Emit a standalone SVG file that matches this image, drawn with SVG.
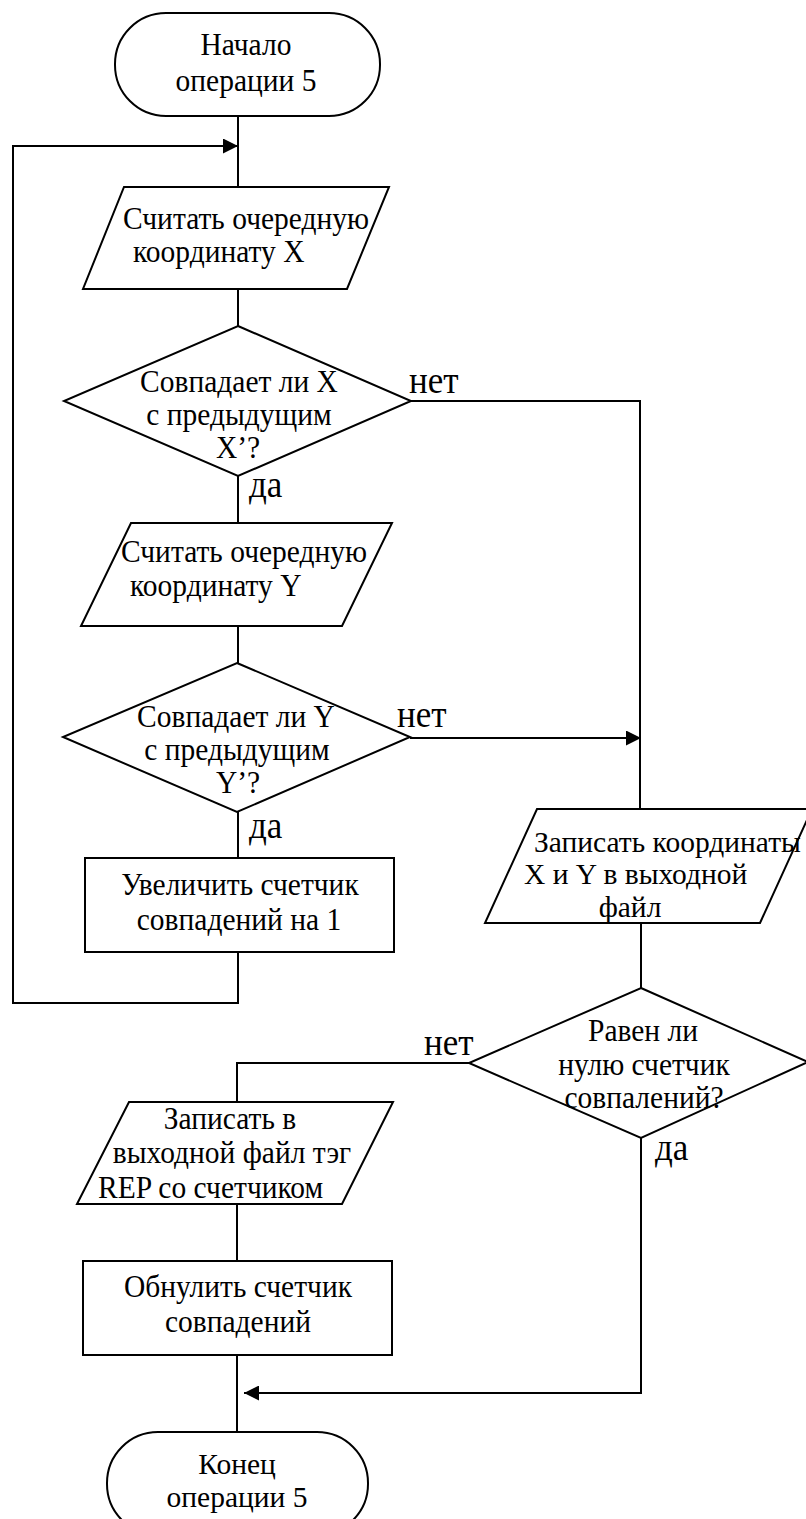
<svg xmlns="http://www.w3.org/2000/svg" width="806" height="1519" viewBox="0 0 806 1519">
<style>
  .shape { fill: #ffffff; stroke: #000000; stroke-width: 2; }
  .conn { fill: none; stroke: #000000; stroke-width: 2; }
  text { font-family: "Liberation Serif", "Times New Roman", serif; fill: #000000; }
  .t { font-size: 29.5px; }
  .m { text-anchor: middle; }
  .lbl { font-size: 35px; }
</style>
<defs>
  <marker id="arrow" markerUnits="userSpaceOnUse" markerWidth="16" markerHeight="15" refX="15" refY="7.5" orient="auto">
    <path d="M0,0 L15,7.5 L0,15 Z" fill="#000000"/>
  </marker>
</defs>

<g id="connectors">
  <path class="conn" d="M238,116 L238,187"/>
  <path class="conn" d="M238,952 L238,1003 L13,1003 L13,146 L238,146" marker-end="url(#arrow)"/>
  <path class="conn" d="M238,289 L238,326"/>
  <path class="conn" d="M411,401 L640,401 L640,809"/>
  <path class="conn" d="M238,476 L238,523"/>
  <path class="conn" d="M238,626 L238,663"/>
  <path class="conn" d="M410,738 L641,738" marker-end="url(#arrow)"/>
  <path class="conn" d="M238,812 L238,858"/>
  <path class="conn" d="M641,923 L641,988"/>
  <path class="conn" d="M469,1063 L237,1063 L237,1102"/>
  <path class="conn" d="M237,1204 L237,1261"/>
  <path class="conn" d="M237,1355 L237,1432"/>
  <path class="conn" d="M641,1138 L641,1393 L244,1393" marker-end="url(#arrow)"/>
  <text class="lbl" transform="translate(409,393) scale(1,1.1)">нет</text>
  <text class="lbl" transform="translate(249,497) scale(1,1.1)">да</text>
  <text class="lbl" transform="translate(397,727) scale(1,1.1)">нет</text>
  <text class="lbl" transform="translate(249,838) scale(1,1.1)">да</text>
  <text class="lbl" transform="translate(424,1055) scale(1,1.1)">нет</text>
  <text class="lbl" transform="translate(655,1160) scale(1,1.1)">да</text>
</g>

<g id="start">
  <rect class="shape" x="115" y="13" width="265" height="103" rx="51" ry="51"/>
  <text class="t m" transform="translate(246,55) scale(1,1.1)">Начало</text>
  <text class="t m" transform="translate(246,91) scale(1,1.1)">операции 5</text>
</g>

<g id="readX">
  <polygon class="shape" points="124,187 389,187 347,289 83,289"/>
  <text class="t" transform="translate(123,229) scale(1,1.1)">Считать очередную</text>
  <text class="t" transform="translate(133,262) scale(1,1.1)">координату X</text>
</g>

<g id="checkX">
  <polygon class="shape" points="238,326 411,401 238,476 64,401"/>
  <text class="t m" transform="translate(239,392) scale(1,1.1)">Совпадает ли X</text>
  <text class="t m" transform="translate(239,425) scale(1,1.1)">с предыдущим</text>
  <text class="t m" transform="translate(238,458) scale(1,1.1)">X’?</text>
</g>

<g id="readY">
  <polygon class="shape" points="131,523 392,523 342,626 81,626"/>
  <text class="t" transform="translate(121,562) scale(1,1.1)">Считать очередную</text>
  <text class="t" transform="translate(130,596) scale(1,1.1)">координату Y</text>
</g>

<g id="checkY">
  <polygon class="shape" points="237,663 410,737 237,812 63,737"/>
  <text class="t m" transform="translate(236,727) scale(1,1.1)">Совпадает ли Y</text>
  <text class="t m" transform="translate(237,760) scale(1,1.1)">с предыдущим</text>
  <text class="t m" transform="translate(238,793) scale(1,1.1)">Y’?</text>
</g>

<g id="increment">
  <rect class="shape" x="85" y="858" width="309" height="94"/>
  <text class="t m" transform="translate(240,895) scale(1,1.1)">Увеличить счетчик</text>
  <text class="t m" transform="translate(239,930) scale(1,1.1)">совпадений на 1</text>
</g>

<g id="writeXY">
  <polygon class="shape" points="537,809 812,809 760,923 485,923"/>
  <text class="t" x="534" y="852">Записать координаты</text>
  <text class="t" x="524" y="884">X и Y в выходной</text>
  <text class="t m" x="630" y="917">файл</text>
</g>

<g id="checkZero">
  <polygon class="shape" points="641,988 808,1062 641,1138 469,1063"/>
  <text class="t m" transform="translate(643,1041) scale(1,1.1)">Равен ли</text>
  <text class="t m" transform="translate(644,1075) scale(1,1.1)">нулю счетчик</text>
  <text class="t m" transform="translate(644,1108) scale(1,1.1)">совпалений?</text>
</g>

<g id="writeREP">
  <polygon class="shape" points="129,1102 393,1102 342,1204 77,1204"/>
  <text class="t m" transform="translate(230,1129) scale(1,1.1)">Записать в</text>
  <text class="t m" transform="translate(232,1163) scale(1,1.1)">выходной файл тэг</text>
  <text class="t" transform="translate(98,1198) scale(1,1.1)">REP со счетчиком</text>
</g>

<g id="reset">
  <rect class="shape" x="83" y="1261" width="309" height="94"/>
  <text class="t m" transform="translate(238,1297) scale(1,1.1)">Обнулить счетчик</text>
  <text class="t m" transform="translate(238,1332) scale(1,1.1)">совпадений</text>
</g>

<g id="end">
  <rect class="shape" x="107" y="1432" width="261" height="103" rx="51" ry="51"/>
  <text class="t m" x="237" y="1474">Конец</text>
  <text class="t m" x="237" y="1507">операции 5</text>
</g>
</svg>
